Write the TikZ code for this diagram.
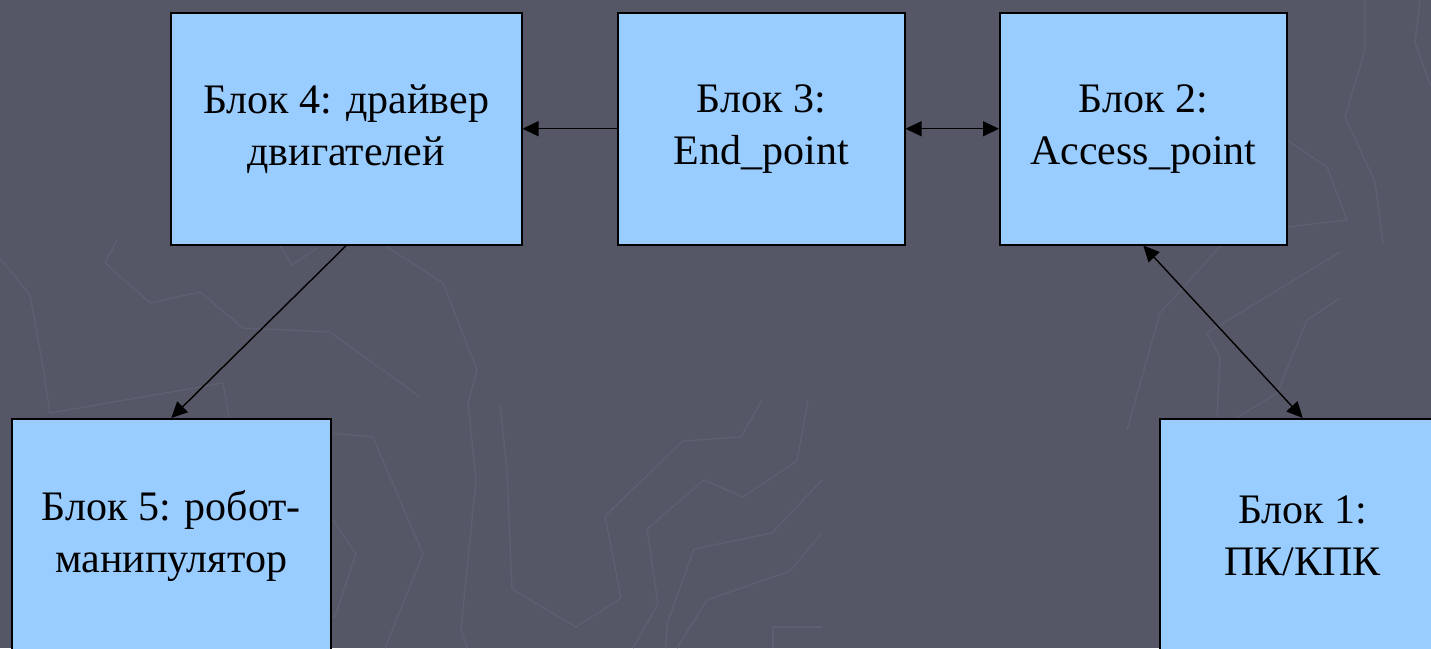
\documentclass[tikz,border=0pt]{standalone}
\usepackage{fontspec}
\setmainfont{Liberation Serif}
\newfontfamily\tnrfont{Liberation Serif}
\usetikzlibrary{arrows.meta}
\definecolor{bgcol}{HTML}{555766}
\definecolor{faint}{HTML}{5D6070}
\definecolor{boxcol}{HTML}{99CCFF}
\tikzset{
  blockbox/.style={draw=black, line width=1.5pt, fill=boxcol, anchor=north west,
    inner sep=0pt, align=center, font=\tnrfont\fontsize{42}{52}\selectfont},
  conn/.style={line width=1.4pt, draw=black},
  tip/.tip={Triangle[length=16pt,width=15pt]},
  bgline/.style={draw=faint, line width=1.3pt}
}
\begin{document}
\begin{tikzpicture}[x=1pt,y=-1pt]
\useasboundingbox (0,0) rectangle (1431,648);
\clip (0,0) rectangle (1431,648);
\fill[bgcol] (0,0) rectangle (1431,648);
% faint background pattern
\draw[bgline] (318,432) -- (373,437) -- (423,554) -- (385,648);
\draw[bgline] (318,498) -- (356,554) -- (335,617) -- (318,617);
\draw[bgline] (443,283) -- (477,370) -- (468,403) -- (476,480) -- (461,629) -- (467,648);
\draw[bgline] (387,247) -- (443,283);
\draw[bgline] (500,405) -- (507,470) -- (512,589) -- (576,627) -- (621,598) -- (605,516) -- (683,441) -- (741,437) -- (762,400);
\draw[bgline] (808,400) -- (797,461) -- (743,497) -- (704,480) -- (647,529) -- (658,604) -- (633,648);
\draw[bgline] (822,480) -- (772,533) -- (694,549) -- (667,624) -- (666,648);
\draw[bgline] (822,533) -- (790,571) -- (707,600) -- (677,648);
\draw[bgline] (773,648) -- (773,627) -- (822,627);
\draw[bgline] (0,258) -- (30,295) -- (43,367) -- (50,413) -- (223,383) -- (233,440);
\draw[bgline] (117,240) -- (105,263) -- (150,303) -- (200,292) -- (243,328) -- (330,332) -- (420,397);
\draw[bgline] (280,246) -- (292,265) -- (317,248);
\draw[bgline] (1365,0) -- (1365,50) -- (1345,117) -- (1375,182) -- (1383,243);
\draw[bgline] (1420,0) -- (1415,43) -- (1431,87);
\draw[bgline] (1287,140) -- (1327,167) -- (1347,220) -- (1287,227);
\draw[bgline] (1223,243) -- (1160,313) -- (1127,430);
\draw[bgline] (1340,252) -- (1207,333) -- (1220,357) -- (1217,417);
\draw[bgline] (1340,298) -- (1307,320) -- (1277,393) -- (1238,417);
% blocks
\node[blockbox, minimum width=351pt, minimum height=232pt] (b4) at (170,12) {Блок 4: драйвер\\двигателей};
\node[blockbox, minimum width=287pt, minimum height=232pt] (b3) at (617,12) {Блок 3:\\End\_point};
\node[blockbox, minimum width=287pt, minimum height=232pt] (b2) at (999,12) {Блок 2:\\Access\_point};
\node[blockbox, minimum width=319pt, minimum height=234pt] (b5) at (11,418) {Блок 5: робот-\\манипулятор};
\node[blockbox, minimum width=286pt, minimum height=234pt] (b1) at (1159,418) {Блок 1:\\ПК/КПК};
% connectors
\draw[conn, -{tip}] (b3.west) -- (b4.east);
\draw[conn, {tip}-{tip}] (b3.east) -- (b2.west);
\draw[conn, -{tip}] (b4.south) -- (b5.north);
\draw[conn, {tip}-{tip}] (b2.south) -- (b1.north);
\end{tikzpicture}
\end{document}
